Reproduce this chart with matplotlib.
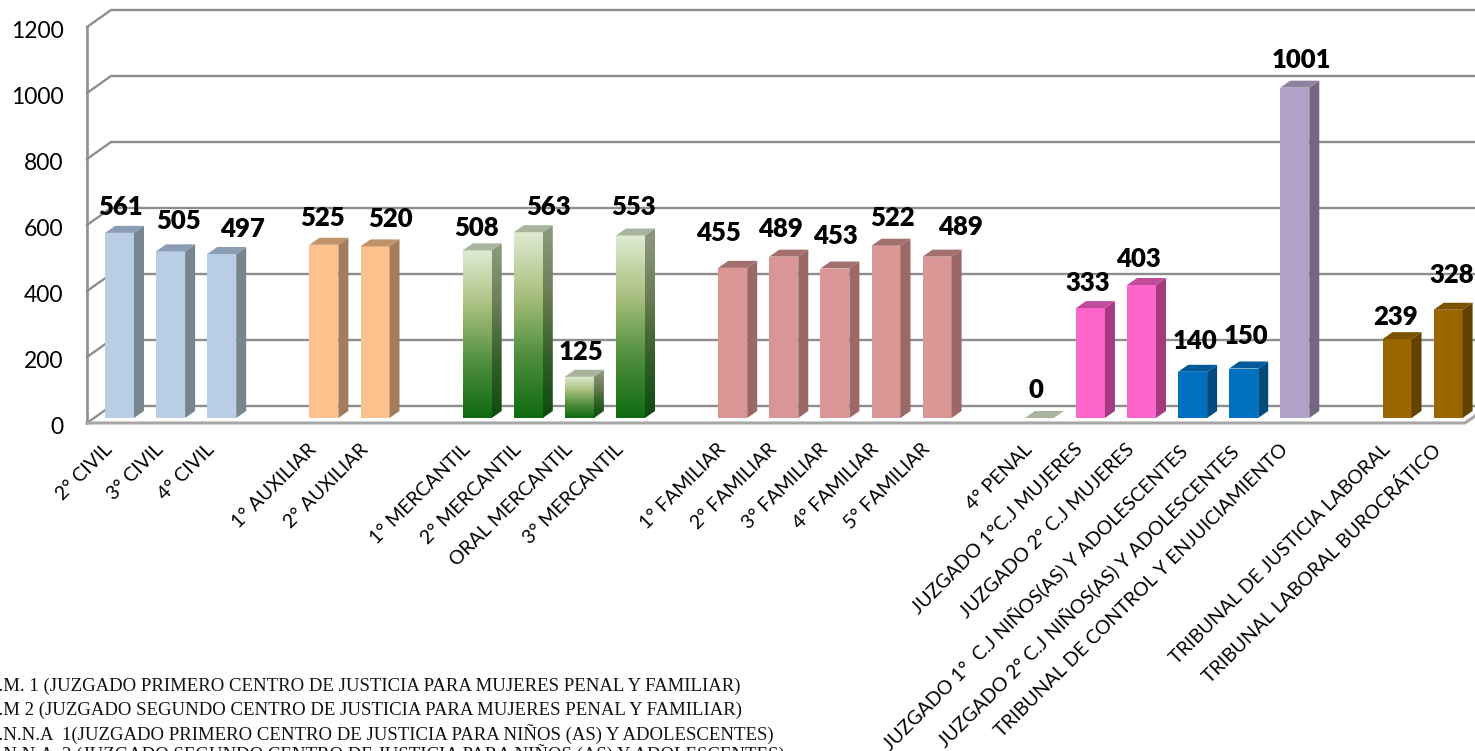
import numpy as np
import matplotlib
matplotlib.use('Agg')
import matplotlib.pyplot as plt
from matplotlib.colors import LinearSegmentedColormap
from matplotlib.patches import Polygon
from matplotlib.transforms import ScaledTranslation

plt.rcParams['font.family'] = ['Lato', 'DejaVu Sans']

# empty string / None leaves a gap between the groups
categories = ['2° CIVIL', '3° CIVIL', '4° CIVIL', '',
              '1° AUXILIAR', '2° AUXILIAR', '',
              '1° MERCANTIL', '2° MERCANTIL', 'ORAL MERCANTIL', '3° MERCANTIL', '',
              '1° FAMILIAR', '2° FAMILIAR', '3° FAMILIAR', '4° FAMILIAR', '5° FAMILIAR', '',
              '4° PENAL', 'JUZGADO 1°C.J MUJERES', 'JUZGADO 2° C.J MUJERES',
              'JUZGADO 1°  C.J NIÑOS(AS) Y ADOLESCENTES',
              'JUZGADO 2° C.J NIÑOS(AS) Y ADOLESCENTES',
              'TRIBUNAL DE CONTROL Y ENJUICIAMIENTO', '',
              'TRIBUNAL DE JUSTICIA LABORAL', 'TRIBUNAL LABORAL BUROCRÁTICO']
values = [561, 505, 497, None,
          525, 520, None,
          508, 563, 125, 553, None,
          455, 489, 453, 522, 489, None,
          0, 333, 403, 140, 150, 1001, None,
          239, 328]
groups = ['civil', 'civil', 'civil', None,
          'aux', 'aux', None,
          'merc', 'merc', 'merc', 'merc', None,
          'fam', 'fam', 'fam', 'fam', 'fam', None,
          'merc', 'muj', 'muj', 'nna', 'nna', 'control', None,
          'lab', 'lab']
y_ticks = [0, 200, 400, 600, 800, 1000, 1200]

notes = ['C.J.M. 1 (JUZGADO PRIMERO CENTRO DE JUSTICIA PARA MUJERES PENAL Y FAMILIAR)',
         'C.J.M 2 (JUZGADO SEGUNDO CENTRO DE JUSTICIA PARA MUJERES PENAL Y FAMILIAR)',
         'C.J.N.N.A  1(JUZGADO PRIMERO CENTRO DE JUSTICIA PARA NIÑOS (AS) Y ADOLESCENTES)',
         'C.J.N.N.A  2 (JUZGADO SEGUNDO CENTRO DE JUSTICIA PARA NIÑOS (AS) Y ADOLESCENTES)']
note_y = [686, 710, 734, 754]

# front, side, top face colours
face_colors = {'civil': ('#B9CDE5', '#77858F', '#8B9DB4'),
               'aux': ('#FCC28E', '#A37C5B', '#C09268'),
               'merc': (None, None, '#A8B49E'),
               'fam': ('#D99694', '#9B6866', '#A36F6D'),
               'muj': ('#FF66CC', '#A63A80', '#C04C9B'),
               'nna': ('#0070C0', '#004A80', '#005A9A'),
               'control': ('#B2A1C7', '#736880', '#8F829F'),
               'lab': ('#996600', '#634200', '#7A5200')}
green_front = LinearSegmentedColormap.from_list('gf', ['#0F6A12', '#4F8E3E', '#A9C07F', '#E0EBD2'])
green_side = LinearSegmentedColormap.from_list('gs', ['#0C4A10', '#35602C', '#6F7F58', '#8E9A80'])

# label offsets from the top of each bar, in pixels
label_dx = [1.5, 8, 21, 0, -1, 16, 0, -1, 20, 2, 3.5, 0, -14, -3, 0, 7, 23, 0, -3, -3, -3, 2, 2, 7, 0, -1, 4]
label_dy = [26, 30, 25, 0, 27, 27, 0, 22, 25, 25, 29, 0, 35, 28, 33, 28, 30, 0, 28, 25, 26, 31, 33, 28, 0, 22, 35]

fig = plt.figure(figsize=(14.75, 7.51), dpi=100)
ax = fig.add_axes([87 / 1475, (751 - 423) / 751, (1475 - 87) / 1475, (423 - 27) / 751])

px_x = 51.1  # pixels per category
px_y = 0.33  # pixels per unit
xmin = (87 - 119.5) / px_x
xmax = (1475 - 119.5) / px_x

wall_dx = 24 / px_x
wall_dy = 17 / px_y
bar_dx = 10 / px_x
bar_dy = 7 / px_y
bar_w = 29 / px_x
base = 5 / px_y
grid_c = '#8E8E8E'

# walls and grid lines
for t in y_ticks:
    ax.plot([xmin, xmin + wall_dx, xmax], [t, t + wall_dy, t + wall_dy], color=grid_c, lw=1.7,
            clip_on=False, zorder=1, solid_joinstyle='miter')
ax.plot([xmin, xmin], [0, 1200], color=grid_c, lw=1.9, clip_on=False, zorder=1)
ax.plot([xmin, xmin + 1378 / px_x, xmax], [0, 0, 7 / px_y], color='#A6A6A6', lw=2.2, clip_on=False, zorder=1)

# bars
for i, (v, g) in enumerate(zip(values, groups)):
    if v is None:
        continue
    front, side, top = face_colors[g]
    left = i - bar_w / 2
    right = i + bar_w / 2
    ytop = base + v
    side_pts = [(right, base), (right + bar_dx, base + bar_dy), (right + bar_dx, ytop + bar_dy), (right, ytop)]
    top_pts = [(left, ytop), (right, ytop), (right + bar_dx, ytop + bar_dy), (left + bar_dx, ytop + bar_dy)]
    if front is not None:
        ax.bar(i, v, bar_w, bottom=base, color=front, zorder=3)
        ax.add_patch(Polygon(side_pts, closed=True, fc=side, ec='none', zorder=3))
    elif v > 0:
        grad = np.linspace(1, 0, 256).reshape(-1, 1)
        ax.imshow(grad, extent=(left, right, base, ytop), cmap=green_front, aspect='auto', zorder=3, vmin=0, vmax=1)
        im = ax.imshow(grad, extent=(right, right + bar_dx, base, ytop + bar_dy), cmap=green_side,
                       aspect='auto', zorder=3, vmin=0, vmax=1)
        clip = Polygon(side_pts, closed=True, transform=ax.transData)
        im.set_clip_path(clip)
    ax.add_patch(Polygon(top_pts, closed=True, fc=top, ec='none', zorder=3))
    ax.annotate(str(v), (i, ytop), xytext=(label_dx[i] * 0.72, label_dy[i] * 0.72),
                textcoords='offset points', ha='center', va='center',
                fontsize=18.5, fontweight='heavy', color='black', zorder=5)

ax.set_xlim(xmin, xmax)
ax.set_ylim(0, 1200)
ax.set_yticks(y_ticks)
ax.tick_params(axis='y', length=0, labelsize=16.5, pad=17)
for lab in ax.get_yticklabels():
    lab.set_transform(lab.get_transform() + ScaledTranslation(0, -2 / 100, fig.dpi_scale_trans))

tick_pos = [i for i, c in enumerate(categories) if c]
ax.set_xticks(tick_pos)
ax.set_xticklabels([categories[i] for i in tick_pos], rotation=45, ha='right',
                   rotation_mode='anchor', fontsize=14)
ax.tick_params(axis='x', length=0, pad=7)
for lab in ax.get_xticklabels():
    lab.set_transform(lab.get_transform() + ScaledTranslation(-16 / 100, -8 / 100, fig.dpi_scale_trans))
for s in ax.spines.values():
    s.set_visible(False)

# notes at the bottom, cut by the figure edge
for n, txt in enumerate(notes):
    fig.text(-26 / 1475, 1 - note_y[n] / 751, txt, family='Liberation Serif', fontsize=13.5,
             color='#111111', ha='left', va='center')

fig.savefig('out.png', dpi=100)
